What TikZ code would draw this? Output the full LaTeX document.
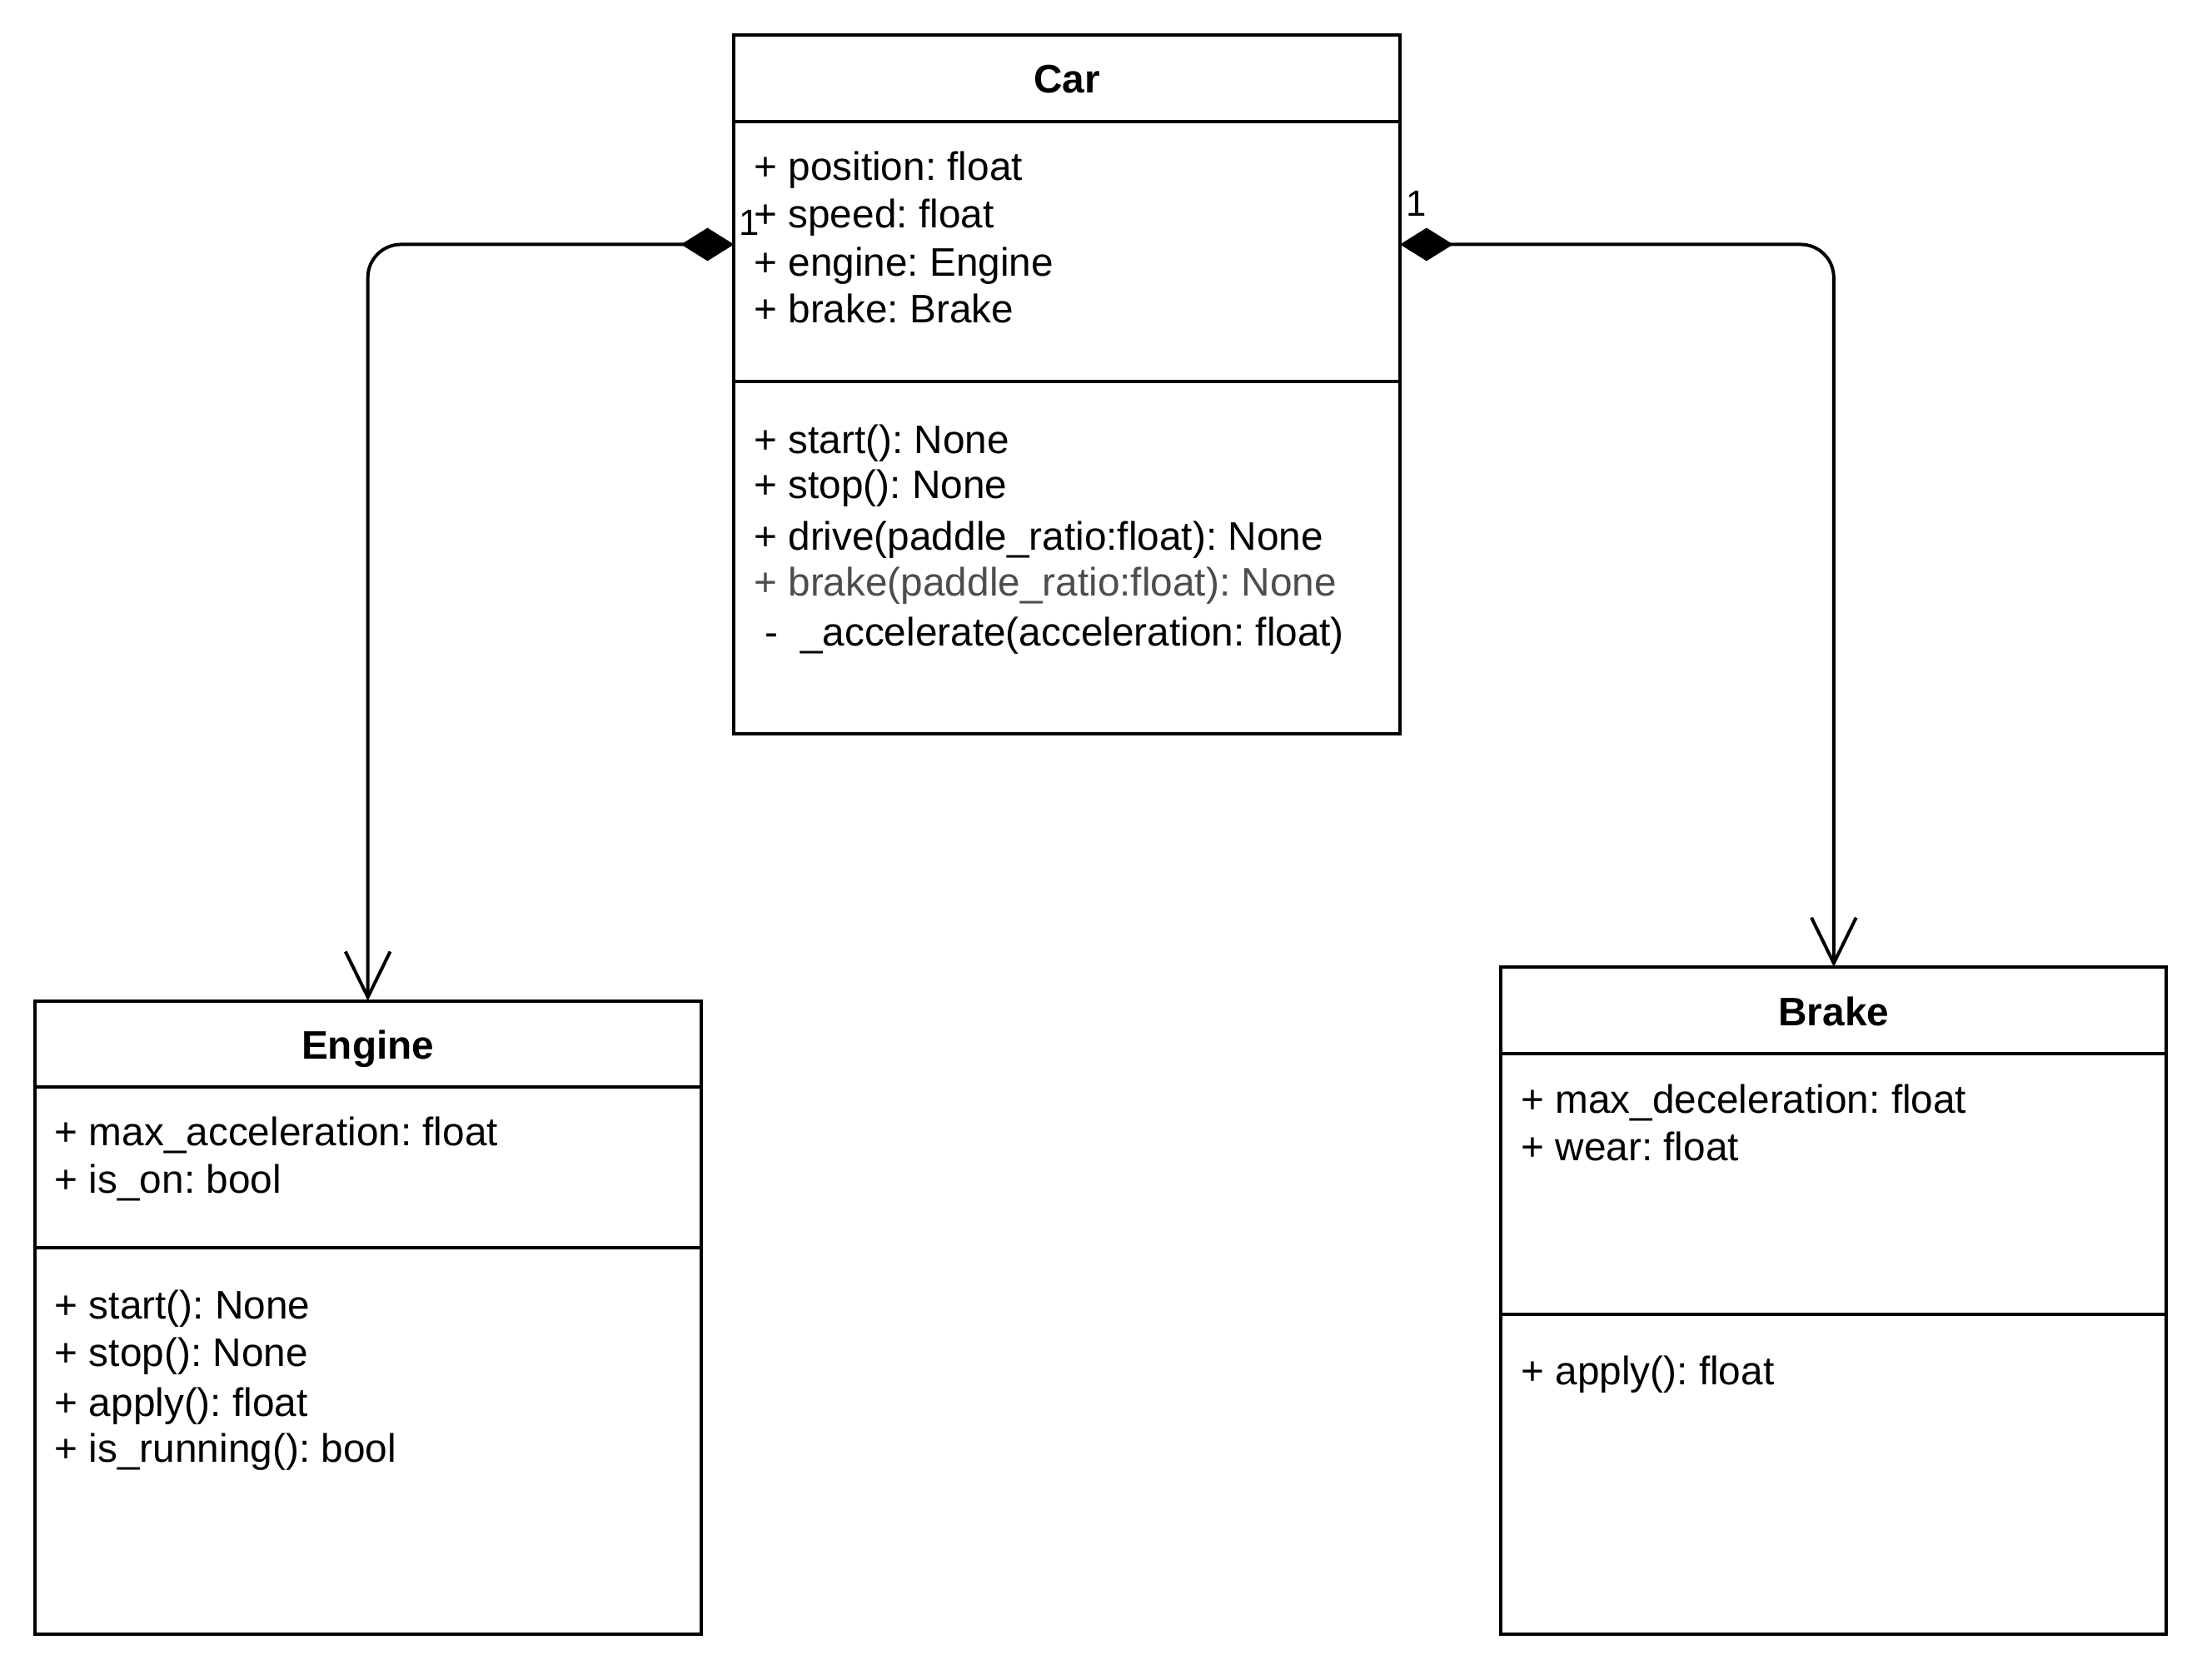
\documentclass[tikz,border=0pt]{standalone}
\usepackage{fontspec}
\setmainfont{Liberation Sans}
\usetikzlibrary{arrows.meta}
\definecolor{greytext}{RGB}{77,77,77}
\frenchspacing
\begin{document}
\begin{tikzpicture}[x=1pt,y=-1pt,
  cls/.style={draw=black, line width=4pt, fill=white, rectangle, inner sep=0pt, outer sep=0pt, anchor=north west},
  sepline/.style={draw=black, line width=4pt},
  member/.style={anchor=base west, inner sep=0pt, font=\fontsize{48pt}{57.6pt}\selectfont},
  clstitle/.style={anchor=base, inner sep=0pt, font=\fontsize{48pt}{57.6pt}\selectfont\bfseries},
  mult/.style={anchor=base west, inner sep=0pt, font=\fontsize{44pt}{52pt}\selectfont},
  comp/.style={draw=black, line width=4pt, rounded corners=40pt,
    arrows={Diamond[length=64pt,width=40pt]-Straight Barb[length=55pt,width=54pt]}}
]
\fill[white] (0,0) rectangle (2658,2027);
\useasboundingbox (0,0) rectangle (2658,2027);

% class boxes
\node[cls, minimum width=804pt, minimum height=844pt] (car) at (886,42) {};
\node[cls, minimum width=804pt, minimum height=764pt] (engine) at (42,1208) {};
\node[cls, minimum width=803pt, minimum height=805pt] (brake) at (1812,1167) {};

% compartments
\draw[sepline] (886,147) -- (1690,147);
\draw[sepline] (886,460) -- (1690,460);
\draw[sepline] (42,1312) -- (846,1312);
\draw[sepline] (42,1506) -- (846,1506);
\draw[sepline] (1812,1272) -- (2615,1272);
\draw[sepline] (1812,1586) -- (2615,1586);

% titles
\node[clstitle] (cartitle) at (1288,112) {Car};
\node[clstitle] (enginetitle) at (444,1278) {Engine};
\node[clstitle] (braketitle) at (2213.5,1238) {Brake};

% Car members
\node[member] (ca1) at (910,218) {+ position: float};
\node[member] (ca2) at (910,275) {+ speed: float};
\node[member] (ca3) at (910,333) {+ engine: Engine};
\node[member] (ca4) at (910,390) {+ brake: Brake};
\node[member] (cm1) at (910,547) {+ start(): None};
\node[member] (cm2) at (910,602) {+ stop(): None};
\node[member] (cm3) at (910,664) {+ drive(paddle\_ratio:float): None};
\node[member, text=greytext] (cm4) at (910,719) {+ brake(paddle\_ratio:float): None};
\node[member] (cm5) at (910,780) {\ -\ \ \_accelerate(acceleration: float)};

% Engine members
\node[member] (ea1) at (66,1383) {+ max\_acceleration: float};
\node[member] (ea2) at (66,1440) {+ is\_on: bool};
\node[member] (em1) at (66,1592) {+ start(): None};
\node[member] (em2) at (66,1649) {+ stop(): None};
\node[member] (em3) at (66,1709) {+ apply(): float};
\node[member] (em4) at (66,1765) {+ is\_running(): bool};

% Brake members
\node[member] (ba1) at (1836,1344) {+ max\_deceleration: float};
\node[member] (ba2) at (1836,1401) {+ wear: float};
\node[member] (bm1) at (1836,1671) {+ apply(): float};

% composition connectors
\draw[comp] ([yshift=-253pt]car.north west) -| (engine.north);
\draw[comp] ([yshift=-253pt]car.north east) -| (brake.north);

% multiplicities
\node[mult] (m1) at (892,284) {1};
\node[mult] (m2) at (1697,261) {1};
\end{tikzpicture}
\end{document}
